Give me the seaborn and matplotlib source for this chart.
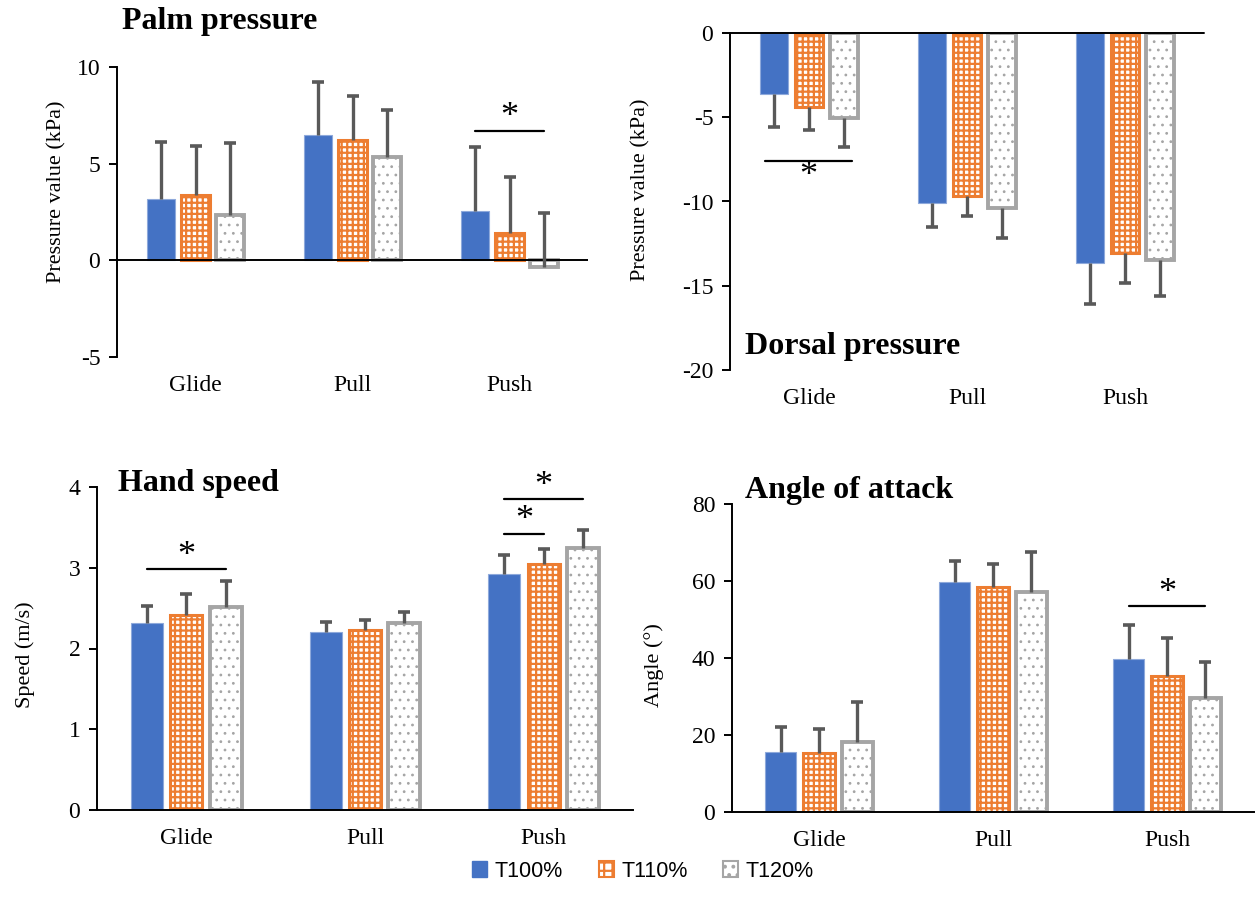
import numpy as np
import pandas as pd
import matplotlib
matplotlib.use("Agg")
import matplotlib.pyplot as plt
import seaborn as sns
from matplotlib.patches import Patch

# ---- data -------------------------------------------------------------
phases = ["Glide", "Pull", "Push"]
conditions = ["T100%", "T110%", "T120%"]

palm_t100 = [3.17, 6.5, 2.55]
palm_t110 = [3.4, 6.2, 1.4]
palm_t120 = [2.35, 5.35, -0.35]
palm_sd_t100 = [2.95, 2.7, 3.3]
palm_sd_t110 = [2.5, 2.3, 2.9]
palm_sd_t120 = [3.7, 2.45, 2.8]

dorsal_t100 = [-3.6, -10.1, -13.65]
dorsal_t110 = [-4.4, -9.65, -13.05]
dorsal_t120 = [-5.05, -10.4, -13.45]
dorsal_sd_t100 = [2.0, 1.4, 2.45]
dorsal_sd_t110 = [1.35, 1.2, 1.8]
dorsal_sd_t120 = [1.7, 1.75, 2.15]

speed_t100 = [2.32, 2.2, 2.92]
speed_t110 = [2.41, 2.23, 3.05]
speed_t120 = [2.51, 2.31, 3.25]
speed_sd_t100 = [0.21, 0.13, 0.24]
speed_sd_t110 = [0.26, 0.12, 0.18]
speed_sd_t120 = [0.32, 0.14, 0.22]

angle_t100 = [15.6, 59.8, 39.7]
angle_t110 = [15.3, 58.4, 35.3]
angle_t120 = [18.2, 57.1, 29.6]
angle_sd_t100 = [6.5, 5.4, 8.9]
angle_sd_t110 = [6.2, 5.9, 9.9]
angle_sd_t120 = [10.3, 10.4, 9.4]

# ---- style ------------------------------------------------------------
sns.set_theme(style="white")
plt.rcParams["font.family"] = ["Liberation Serif", "DejaVu Serif"]
plt.rcParams["axes.unicode_minus"] = False
plt.rcParams["hatch.linewidth"] = 1.6
for key in ["text.color", "axes.labelcolor", "xtick.color", "ytick.color"]:
    plt.rcParams[key] = "black"

BLUE = "#4472C4"
ORANGE = "#ED7D31"
GRAY = "#A5A5A5"
ERR = "#595959"
TICK_FS = 17
LABEL_FS = 16
TITLE_FS = 23

W, H = 1256, 913
fig = plt.figure(figsize=(W / 100, H / 100), dpi=100)


def axes_px(left, top, right, bottom):
    return fig.add_axes([left / W, 1 - bottom / H, (right - left) / W, (bottom - top) / H])


def style_bars(ax):
    for i, cont in enumerate(ax.containers):
        for bar in cont:
            if i == 0:
                bar.set_facecolor(BLUE)
                bar.set_edgecolor("#8EA9DB")
                bar.set_linewidth(0.8)
            elif i == 1:
                bar.set_facecolor("white")
                bar.set_edgecolor(ORANGE)
                bar.set_hatch("+++")
                bar.set_linewidth(2.2)
            else:
                bar.set_facecolor("white")
                bar.set_edgecolor(GRAY)
                bar.set_hatch("..")
                bar.set_linewidth(2.8)
                if hasattr(bar, "set_hatch_linewidth"):
                    bar.set_hatch_linewidth(0.8)


def draw_panel(ax, means, sds, downward=False):
    rows = []
    for cond, vals in zip(conditions, means):
        for ph, v in zip(phases, vals):
            rows.append({"phase": ph, "condition": cond, "value": v})
    df = pd.DataFrame(rows)
    sns.barplot(data=df, x="phase", y="value", hue="condition",
                order=phases, hue_order=conditions, errorbar=None,
                width=0.66, gap=0.18, saturation=1, legend=False, ax=ax)
    style_bars(ax)
    centers = []
    sign = -1 if downward else 1
    for cont, vals, sd in zip(ax.containers, means, sds):
        xs = np.array([b.get_x() + b.get_width() / 2 for b in cont])
        centers.append(xs)
        vals = np.asarray(vals)
        tips = vals + sign * np.asarray(sd)
        # one-sided error bars: stem from the bar end plus a cap at the tip
        ax.vlines(xs, vals, tips, color=ERR, lw=2.4, zorder=5)
        ax.plot(xs, tips, ls="none", marker="_", ms=8, mew=2.6, color=ERR, zorder=5)
    ax.set_xlabel("")
    ax.tick_params(axis="x", length=0, labelsize=TICK_FS, pad=13)
    ax.tick_params(axis="y", length=6, width=1.4, labelsize=TICK_FS, direction="out",
                   left=True, pad=6)
    for s in ["top", "right", "bottom"]:
        ax.spines[s].set_visible(False)
    ax.spines["left"].set_color("black")
    ax.spines["left"].set_linewidth(1.4)
    ax.set_xlim(-0.5, 2.5)
    return centers


def sig(ax, x0, x1, y_line, y_star):
    ax.plot([x0, x1], [y_line, y_line], color="black", lw=1.6, clip_on=False, zorder=6)
    ax.text((x0 + x1) / 2, y_star, "*", ha="center", va="center", fontsize=26,
            color="black", clip_on=False)


# ---- Palm pressure ----------------------------------------------------
ax1 = axes_px(117, 67, 588, 357)
c1 = draw_panel(ax1, [palm_t100, palm_t110, palm_t120],
                [palm_sd_t100, palm_sd_t110, palm_sd_t120])
ax1.set_ylim(-5, 10)
ax1.set_yticks([-5, 0, 5, 10])
ax1.axhline(0, color="black", lw=1.4, zorder=4)
ax1.set_ylabel("Pressure value (kPa)", fontsize=LABEL_FS)
ax1.yaxis.set_label_coords(-0.108, 0.57)
sig(ax1, c1[0][2], c1[2][2], 6.7, 7.4)
fig.text(122 / W, 1 - 22 / H, "Palm pressure", fontsize=TITLE_FS, fontweight="bold",
         ha="left", va="center")

# ---- Dorsal pressure --------------------------------------------------
ax2 = axes_px(730, 33, 1204, 370)
c2 = draw_panel(ax2, [dorsal_t100, dorsal_t110, dorsal_t120],
                [dorsal_sd_t100, dorsal_sd_t110, dorsal_sd_t120], downward=True)
ax2.set_ylim(-20, 0)
ax2.set_yticks([0, -5, -10, -15, -20])
ax2.axhline(0, color="black", lw=1.4, zorder=4, clip_on=False)
ax2.set_ylabel("Pressure value (kPa)", fontsize=LABEL_FS)
ax2.yaxis.set_label_coords(-0.168, 0.534)
sig(ax2, c2[0][0] - 0.06, c2[2][0] + 0.05, -7.6, -8.5)
ax2.text(0.032, 0.07, "Dorsal pressure", transform=ax2.transAxes, fontsize=TITLE_FS,
         fontweight="bold", ha="left", va="center")

# ---- Hand speed -------------------------------------------------------
ax3 = axes_px(97, 487, 633, 810)
c3 = draw_panel(ax3, [speed_t100, speed_t110, speed_t120],
                [speed_sd_t100, speed_sd_t110, speed_sd_t120])
ax3.set_ylim(0, 4)
ax3.set_yticks([0, 1, 2, 3, 4])
ax3.spines["bottom"].set_visible(True)
ax3.spines["bottom"].set_color("black")
ax3.spines["bottom"].set_linewidth(1.4)
ax3.set_ylabel("Speed (m/s)", fontsize=LABEL_FS)
ax3.yaxis.set_label_coords(-0.116, 0.48)
sig(ax3, c3[0][0], c3[2][0], 2.98, 3.14)
sig(ax3, c3[0][2], c3[1][2], 3.42, 3.58)
sig(ax3, c3[0][2], c3[2][2], 3.85, 4.01)
ax3.text(0.039, 1.012, "Hand speed", transform=ax3.transAxes, fontsize=TITLE_FS,
         fontweight="bold", ha="left", va="center")

# ---- Angle of attack --------------------------------------------------
ax4 = axes_px(732, 504, 1254, 812)
c4 = draw_panel(ax4, [angle_t100, angle_t110, angle_t120],
                [angle_sd_t100, angle_sd_t110, angle_sd_t120])
ax4.set_ylim(0, 80)
ax4.set_yticks([0, 20, 40, 60, 80])
ax4.spines["bottom"].set_visible(True)
ax4.spines["bottom"].set_color("black")
ax4.spines["bottom"].set_linewidth(1.4)
ax4.set_ylabel("Angle (°)", fontsize=LABEL_FS)
ax4.yaxis.set_label_coords(-0.13, 0.477)
sig(ax4, c4[0][2], c4[2][2], 53.5, 56.8)
ax4.text(0.025, 1.045, "Angle of attack", transform=ax4.transAxes, fontsize=TITLE_FS,
         fontweight="bold", ha="left", va="center")

# ---- shared legend ----------------------------------------------------
handles = [
    Patch(facecolor=BLUE, edgecolor=BLUE, label=conditions[0]),
    Patch(facecolor="white", edgecolor=ORANGE, hatch="++", lw=1.5, label=conditions[1]),
    Patch(facecolor="white", edgecolor=GRAY, hatch="..", lw=1.5, label=conditions[2]),
]
fig.legend(handles=handles, loc="center", bbox_to_anchor=(0.512, 1 - 871 / H),
           ncol=3, frameon=False, handlelength=0.7, handleheight=0.7,
           handletextpad=0.35, columnspacing=1.65,
           prop={"family": "Liberation Sans", "size": 15.5})

fig.savefig("out.png", dpi=100)
